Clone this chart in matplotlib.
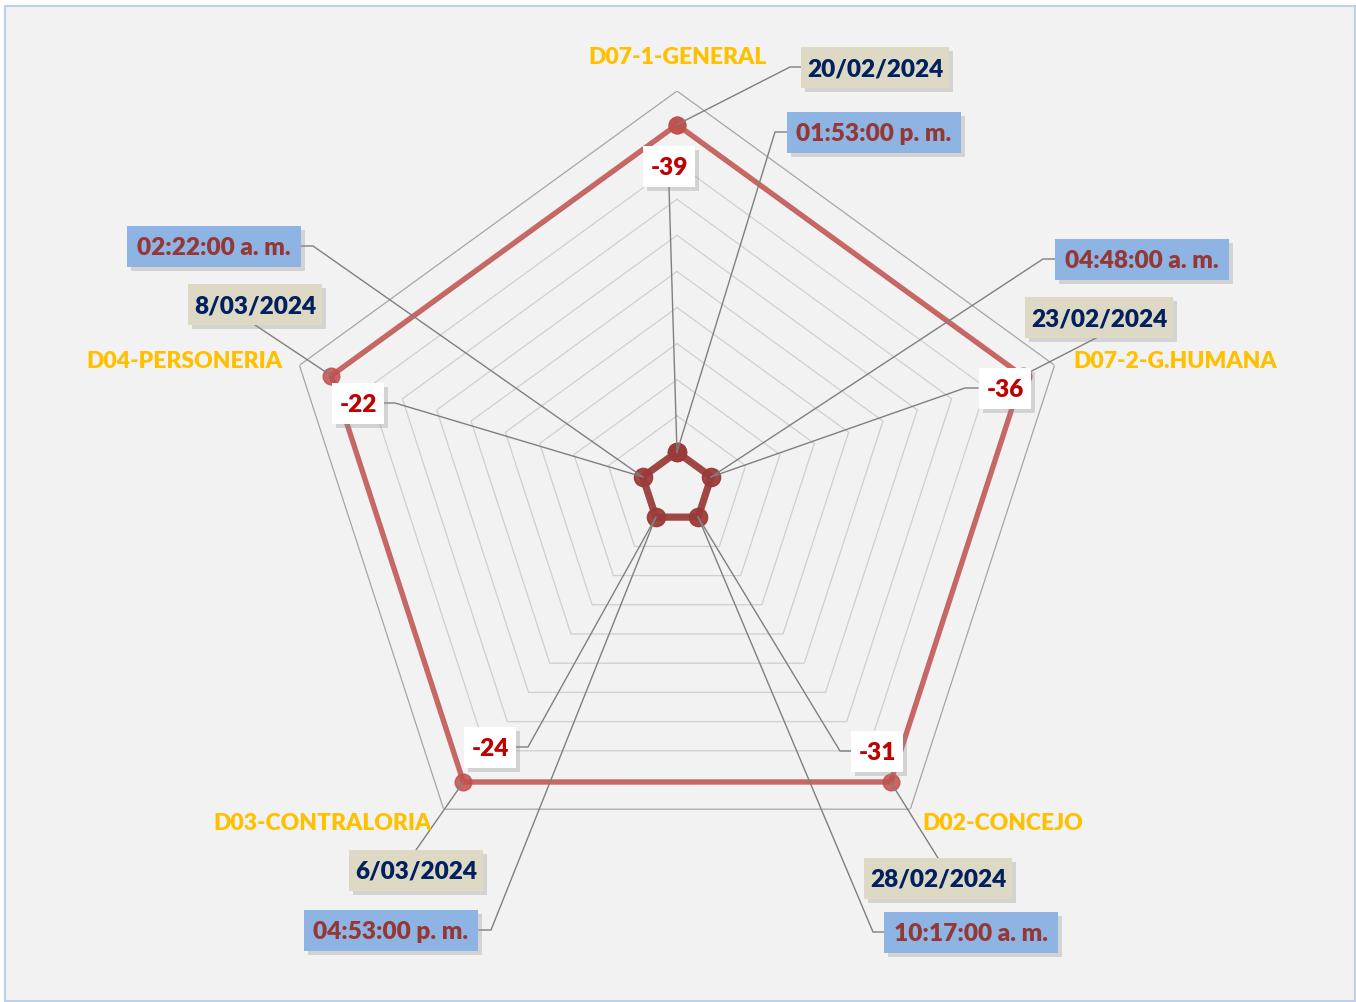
import datetime as dt
import numpy as np
import matplotlib
matplotlib.use('Agg')
import matplotlib.pyplot as plt
import matplotlib.patheffects as pe
from matplotlib.patches import Rectangle
from matplotlib.lines import Line2D
from matplotlib.transforms import IdentityTransform

categorias = ['D07-1-GENERAL', 'D07-2-G.HUMANA', 'D02-CONCEJO', 'D03-CONTRALORIA', 'D04-PERSONERIA']
fechas = ['20/02/2024', '23/02/2024', '28/02/2024', '6/03/2024', '8/03/2024']
horas = ['01:53:00 p. m.', '04:48:00 a. m.', '10:17:00 a. m.', '04:53:00 p. m.', '02:22:00 a. m.']
dias = [-39, -36, -31, -24, -22]


def serial(s):
    # excel date serial
    d = dt.datetime.strptime(s, '%d/%m/%Y')
    return (d - dt.datetime(1899, 12, 30)).days


def fraccion(s):
    hh, mm, ss = s[:8].split(':')
    h = int(hh) % 12 + (12 if 'p.' in s else 0)
    return (h * 3600 + int(mm) * 60 + int(ss)) / 86400


val_fechas = [serial(f) for f in fechas]
val_horas = [fraccion(h) for h in horas]

W, H = 1356, 1002
fig = plt.figure(figsize=(W / 100, H / 100), dpi=100)
fig.patch.set_facecolor('white')
plt.rcParams['font.family'] = ['Lato', 'DejaVu Sans']

ident = IdentityTransform()

# chart area background + border
fig.add_artist(Rectangle((5, H - 1001), 1350, 995, transform=ident, fc='#F2F2F2',
                         ec='#BDD0E9', lw=1.5, zorder=-1))

cx, cy, R = 677, 488, 397
ax = fig.add_axes([(cx - R) / W, (H - cy - R) / H, 2 * R / W, 2 * R / H], projection='polar')
ax.set_theta_offset(np.pi / 2)
ax.set_theta_direction(-1)
ax.set_ylim(-5000, 50000)
ax.grid(False)
ax.set_xticks([])
ax.set_yticks([])
ax.spines['polar'].set_visible(False)
ax.patch.set_alpha(0)

n = len(categorias)
ang = np.linspace(0, 2 * np.pi, n, endpoint=False)
ang_c = np.append(ang, ang[0])

for v in range(0, 50001, 5000):
    ax.plot(ang_c, [v] * (n + 1), color='#A6A6A6' if v == 50000 else '#CFCFCF', lw=0.9, zorder=1)

ax.plot(ang_c, val_fechas + val_fechas[:1], color='#C0504D', alpha=0.85, lw=3.8,
        marker='o', ms=12, zorder=3)
ax.plot(ang_c, val_horas + val_horas[:1], color='#9B3B39', alpha=0.75, lw=5,
        marker='o', ms=13, zorder=3)
ax.plot(ang_c, dias + dias[:1], color='#9B3B39', alpha=0.75, lw=5,
        marker='o', ms=13, zorder=3)

# label layout: centre of box (image px), box width, leader points from box edge
pos_fechas = [((875, 67), 148, [(801, 67), (790, 67)]),
              ((1099, 317), 148, [(1098, 337)]),
              ((938, 878), 148, [(938, 858)]),
              ((416, 870), 134, [(416, 850)]),
              ((255, 304), 134, [(255, 325)])]
pos_horas = [((874, 132), 174, [(787, 132), (775, 132)]),
             ((1142, 259), 174, [(1056, 259), (1043, 259)]),
             ((971, 932), 174, [(885, 932), (873, 932)]),
             ((391, 930), 174, [(479, 930), (491, 930)]),
             ((214, 246), 174, [(301, 246), (313, 246)])]
pos_dias = [((669, 166), 52, [(669, 187)]),
            ((1005, 388), 52, [(978, 388), (965, 388)]),
            ((877, 751), 52, [(851, 751), (840, 751)]),
            ((490, 747), 52, [(516, 747), (528, 747)]),
            ((358, 403), 52, [(384, 403), (395, 403)])]

sombra = [pe.withSimplePatchShadow(offset=(3, -3), shadow_rgbFace='#8C8C8C', alpha=0.3)]


def etiqueta(texto, valor, i, lay, fc, tc):
    (x, y), w, pts = lay
    h = 41
    px, py = ax.transData.transform((ang[i], valor))
    xs = [p[0] for p in pts] + [px]
    ys = [H - p[1] for p in pts] + [py]
    fig.add_artist(Line2D(xs, ys, transform=ident, color='#7F7F7F', lw=1.0, zorder=1.5))
    box = Rectangle((x - w / 2, H - y - h / 2), w, h, transform=ident, fc=fc, ec='none', zorder=2)
    box.set_path_effects(sombra)
    fig.add_artist(box)
    fig.text(x / W, 1 - (y + 2) / H, texto, ha='center', va='center', color=tc,
             fontsize=17.6, fontweight='heavy', zorder=3)


for i in range(n):
    etiqueta(fechas[i], val_fechas[i], i, pos_fechas[i], '#DDD9C4', '#002060')
    etiqueta(horas[i], val_horas[i], i, pos_horas[i], '#8DB4E2', '#953735')
    etiqueta(str(dias[i]), dias[i], i, pos_dias[i], 'white', '#C00000')

pos_cat = [(677, 56, 'center'), (1073, 360, 'left'), (922, 823, 'left'),
           (432, 823, 'right'), (282, 360, 'right')]
for c, (x, y, al) in zip(categorias, pos_cat):
    fig.text(x / W, 1 - (y + 1) / H, c, ha=al, va='center', color='#FFC000',
             fontsize=16.5, fontweight='heavy')

fig.savefig('out.png', dpi=100, facecolor='white')
